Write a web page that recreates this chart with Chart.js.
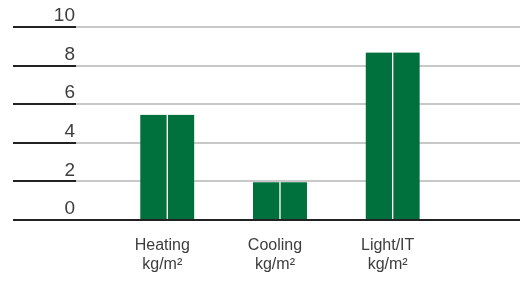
<!DOCTYPE html>
<html>
<head>
<meta charset="utf-8">
<script src="https://cdn.jsdelivr.net/npm/chart.js@4"></script>
<style>
  html, body { margin: 0; padding: 0; background: #fff; }
  #wrap { width: 520px; height: 281px; }
</style>
</head>
<body>
<div id="wrap"><canvas id="barChart"></canvas></div>
<script>
// ---------------- Data ----------------
const categories = ["Heating", "Cooling", "Light/IT"];
const unitLabel = "kg/m²";
const leftBars = [5.45, 1.95, 8.68];
const rightBars = [5.45, 1.95, 8.68];
const yTicks = [0, 2, 4, 6, 8, 10];

const GREEN = "#00703c";
const FONT = "'Liberation Sans', Arial, sans-serif";

// dark stubs under the y labels + dark baseline
const leftStubs = {
  id: "leftStubs",
  afterDatasetsDraw(chart) {
    const { ctx, chartArea, scales } = chart;
    ctx.save();
    ctx.lineWidth = 2;
    ctx.strokeStyle = "#222";
    yTicks.forEach(v => {
      const y = Math.round(scales.y.getPixelForValue(v));
      const x2 = v === 0 ? chartArea.right : chartArea.left;
      ctx.beginPath();
      ctx.moveTo(scales.y.left, y);
      ctx.lineTo(x2, y);
      ctx.stroke();
    });
    ctx.restore();
  }
};

const ctxBar = document.getElementById("barChart").getContext("2d");
new Chart(ctxBar, {
  type: "bar",
  data: {
    datasets: [
      {
        data: leftBars.map((v, i) => ({ x: i + 1, y: v })),
        backgroundColor: GREEN,
        borderColor: "#fff",
        borderWidth: { top: 0, right: 1, bottom: 0, left: 0 },
        borderSkipped: false,
        barThickness: 27
      },
      {
        data: rightBars.map((v, i) => ({ x: i + 1, y: v })),
        backgroundColor: GREEN,
        borderColor: "#fff",
        borderWidth: { top: 0, right: 0, bottom: 0, left: 1 },
        borderSkipped: false,
        barThickness: 27
      }
    ]
  },
  options: {
    responsive: true,
    maintainAspectRatio: false,
    animation: false,
    layout: { padding: { left: 13, top: 27, right: 0, bottom: 0 } },
    plugins: {
      legend: { display: false },
      tooltip: { enabled: false }
    },
    scales: {
      x: {
        type: "linear",
        offset: false,
        min: 0.19,
        max: 4.13,
        afterBuildTicks: axis => {
          axis.ticks = categories.map((c, i) => ({ value: i + 1 }));
        },
        afterFit: axis => { axis.height = 61; },
        grid: { display: false },
        border: { display: false },
        ticks: {
          callback: value => [categories[value - 1], unitLabel],
          color: "#3d3d3d",
          font: { family: FONT, size: 16, lineHeight: 1.2 },
          padding: 8,
          labelOffset: -5,
          maxRotation: 0,
          autoSkip: false
        }
      },
      y: {
        min: 0,
        max: 10,
        afterBuildTicks: axis => {
          axis.ticks = yTicks.map(v => ({ value: v }));
        },
        afterFit: axis => { axis.width = 63; },
        grid: { color: "#c8c8c8", lineWidth: 2, drawTicks: false },
        border: { display: false },
        ticks: {
          padding: 1,
          labelOffset: -11,
          color: "#3d3d3d",
          font: { family: FONT, size: 19 }
        }
      }
    }
  },
  plugins: [leftStubs]
});
</script>
</body>
</html>
